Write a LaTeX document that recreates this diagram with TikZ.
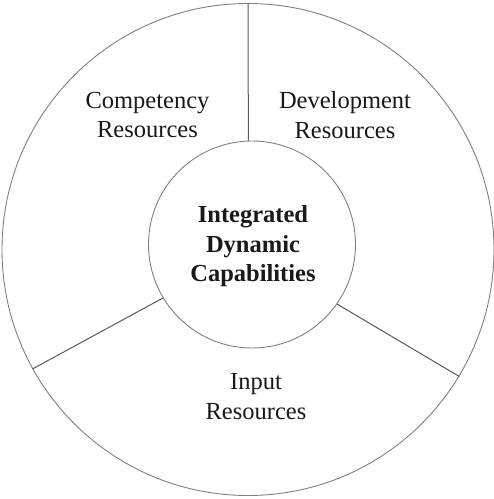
\documentclass[tikz,border=0pt]{standalone}
\usepackage{fontspec}
\setmainfont{Liberation Serif}
\begin{document}
\begin{tikzpicture}[x=1pt,y=1pt,
  ring/.style={circle,draw=black!50,line width=0.9pt,inner sep=0pt},
  spoke/.style={draw=black!65,line width=1pt},
  label/.style={align=center,text=black!90,inner sep=0pt,
    font=\fontsize{24.5}{29.4}\selectfont},
  corelabel/.style={label,font=\fontsize{24.5}{29.6}\selectfont\bfseries}]
  \fill[white] (0,0) rectangle (494,-499);
  \useasboundingbox (0,0) rectangle (494,-499);

  % outer ring and central capability circle
  \node[ring,minimum size=492pt] (outer) at (248,-249.5) {};
  \node[ring,minimum size=207pt,fill=white] (core) at (252,-244.5) {};

  % spokes dividing the three resource sectors
  \draw[spoke] (core.92.2) -- (outer.90);
  \draw[spoke] (core.211.2) -- (outer.209.8);
  \draw[spoke] (core.325.7) -- (outer.329.8);

  % sector and centre labels
  \node[label] (comp) at (147.5,-115) {Competency\\Resources};
  \node[label] (dev) at (345,-115) {Development\\Resources};
  \node[label] (input) at (256,-396.5) {Input\\Resources};
  \node[corelabel] (idc) at (253,-246.5) {Integrated\\Dynamic\\Capabilities};
\end{tikzpicture}
\end{document}
